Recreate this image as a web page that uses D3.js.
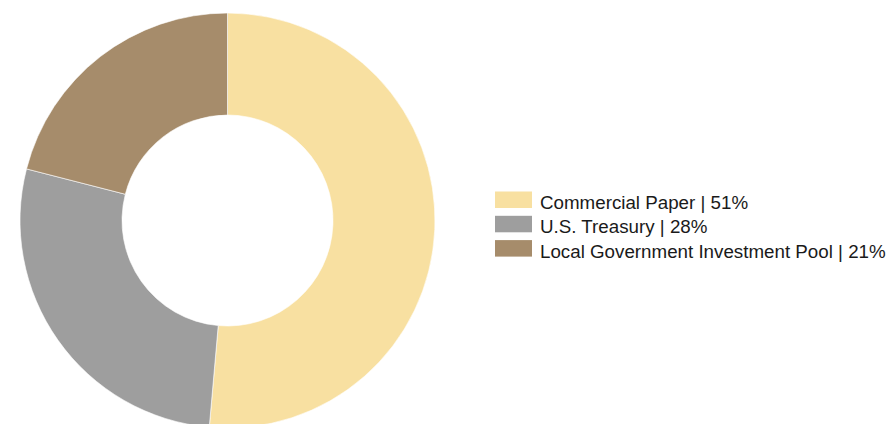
<!DOCTYPE html>
<html>
<head>
<meta charset="utf-8">
<script src="https://cdn.jsdelivr.net/npm/d3@7"></script>
<style>
  body { margin: 0; background: #fff; }
  svg { display: block; }
</style>
</head>
<body>
<svg id="chart" width="890" height="424"></svg>
<script>
const categories = ['Commercial Paper', 'U.S. Treasury', 'Local Government Investment Pool'];
// underlying shares (legend shows them rounded)
const shares = [51.4, 27.6, 21.0];
const colors = ['#F8E0A1', '#9E9E9E', '#A68C6B'];

const width = 890, height = 424;
const svg = d3.select('#chart').attr('width', width).attr('height', height);

const outerR = 207.5, innerR = 105.5;
const cx = 227.5, cy = 220.5;

const pie = d3.pie().sort(null).value(d => d);
const arcs = pie(shares);
const arc = d3.arc().innerRadius(innerR).outerRadius(outerR);

const colorScale = d3.scaleOrdinal().domain(categories).range(colors);

const g = svg.append('g').attr('transform', `translate(${cx},${cy})`);
g.selectAll('path')
  .data(arcs)
  .enter()
  .append('path')
  .attr('d', arc)
  .attr('fill', (d, i) => colorScale(categories[i]))
  .attr('stroke', '#fff')
  .attr('stroke-width', 0.6);

// legend
const legend = svg.append('g')
  .attr('transform', 'translate(495,191.5)')
  .selectAll('g')
  .data(categories)
  .enter()
  .append('g')
  .attr('transform', (d, i) => `translate(0,${i * 24.3})`);

legend.append('rect')
  .attr('width', 37)
  .attr('height', 16.5)
  .attr('fill', d => colorScale(d));

legend.append('text')
  .attr('x', 45)
  .attr('y', 17.5)
  .style('font-family', '"Liberation Sans", Arial, sans-serif')
  .style('font-size', '18.75px')
  .style('fill', '#1a1a1a')
  .text((d, i) => `${d} | ${Math.round(shares[i])}%`);
</script>
</body>
</html>
